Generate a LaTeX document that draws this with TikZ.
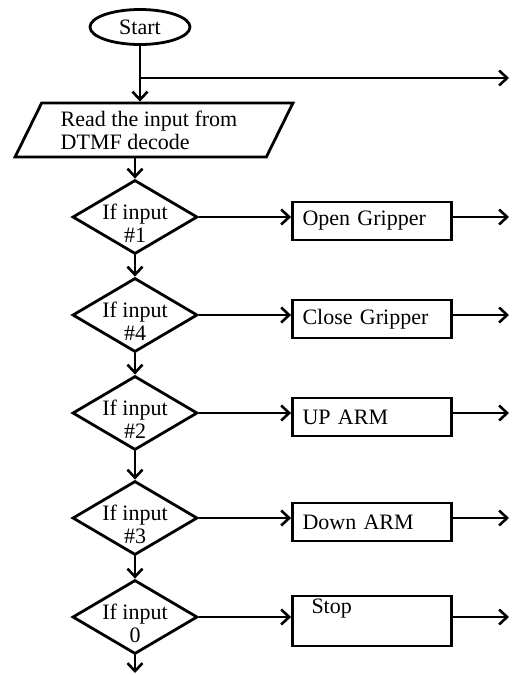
\documentclass[tikz,border=0pt]{standalone}
\usepackage{fontspec}
\setmainfont{Liberation Serif}
\usetikzlibrary{shapes.geometric,arrows.meta}

\tikzset{
  box/.style={draw, line width=2.8pt, font=\fontsize{22}{23}\selectfont, inner sep=0},
  startnode/.style={box, ellipse, minimum width=100, minimum height=35},
  readnode/.style={box, trapezium, trapezium left angle=63, trapezium right angle=117,
    trapezium stretches=true, minimum width=278, minimum height=54, align=left},
  cond/.style={box, diamond, minimum width=125, minimum height=74},
  actnode/.style={box, rectangle, minimum width=159, text width=139, align=left}
}

\begin{document}
\begin{tikzpicture}[x=1pt,y=-1pt,>={Straight Barb[length=8pt,width=15pt]},line width=2.6pt]
\useasboundingbox (0,0) rectangle (512,675);

\node[startnode] (start) at (140,27) {Start};
\node[readnode] (read) at (154,130) {\hspace*{-10pt}Read the input from\\\hspace*{-10pt}DTMF decode};
\coordinate (split) at (140,78);
\coordinate (exit0) at (509,78);

\draw[->] (start) -- (start.south |- read.north);
\draw[->] (split) -- (exit0);

\foreach \i/\y/\key/\act/\h in {1/217/\#1/Open Gripper/38, 2/315/\#4/Close Gripper/38,
  3/413/\#2/UP ARM/38, 4/518/\#3/Down ARM/38, 5/617/0/{\hspace*{9pt}Stop\\ \strut}/50}
{
   \node[cond, label={[font=\fontsize{22}{23}\selectfont, align=center, yshift=-6pt]center:{If input\\\key}}] (d\i) at (135,\y) {};
   \node[actnode, minimum height=\h] (r\i) at (372,\y+4) {\act};
   \coordinate (exit\i) at (509,\y);
   \draw[->] (d\i.east) -- (d\i.east -| r\i.west);
   \draw[->] (r\i.east |- d\i) -- (exit\i);
}

\draw[->] (d1.north |- read.south) -- (d1);
\foreach \a/\b in {1/2,2/3,3/4,4/5}
   \draw[->] (d\a) -- (d\b);
\coordinate (end) at (135,673);
\draw[->] (d5) -- (end);

\end{tikzpicture}
\end{document}
